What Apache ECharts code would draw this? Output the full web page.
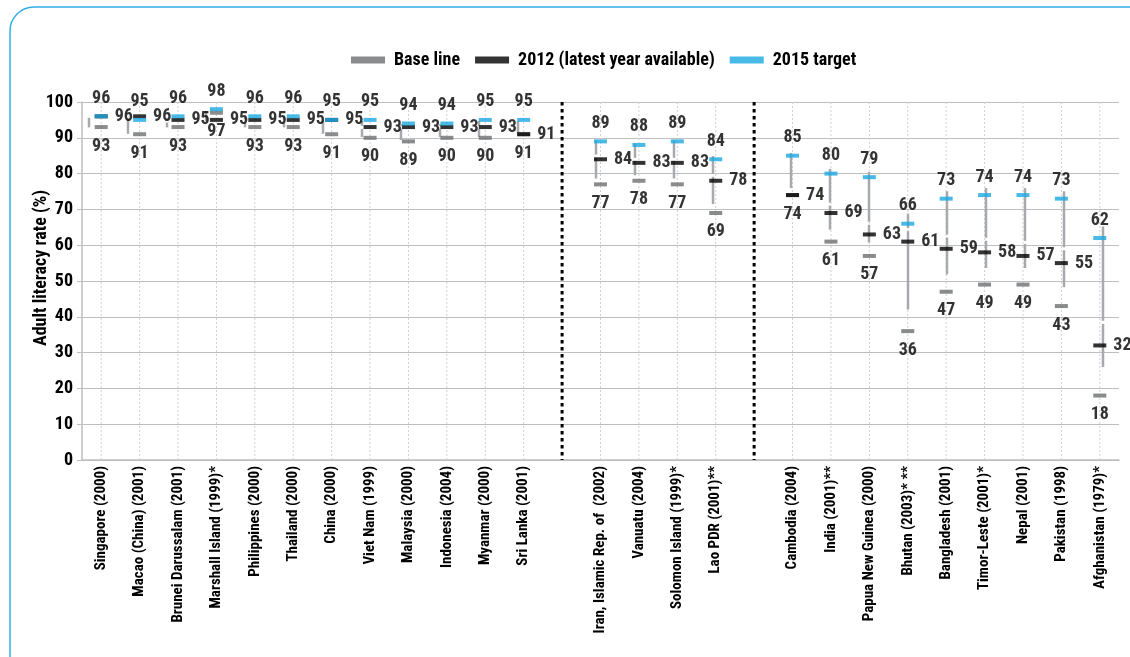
<!DOCTYPE html>
<html>
<head>
<meta charset="utf-8">
<script src="https://cdn.jsdelivr.net/npm/echarts@6/dist/echarts.min.js"></script>
<style>
html, body { margin: 0; padding: 0; background: #fff; }
#chart { width: 1130px; height: 657px; }
</style>
</head>
<body>
<div id="chart"></div>
<script>
// blank entries are the gaps between the three country groups
var categories = [
    'Singapore (2000)', 'Macao (China) (2001)', 'Brunei Darussalam (2001)', 'Marshall Island (1999)*',
    'Philippines (2000)', 'Thailand (2000)', 'China (2000)', 'Viet Nam (1999)', 'Malaysia (2000)',
    'Indonesia (2004)', 'Myanmar (2000)', 'Sri Lanka (2001)', '',
    'Iran, Islamic Rep. of  (2002)', 'Vanuatu (2004)', 'Solomon Island (1999)*', 'Lao PDR (2001)**', '',
    'Cambodia (2004)', 'India (2001)**', 'Papua New Guinea (2000)', 'Bhutan (2003)* **', 'Bangladesh (2001)',
    'Timor-Leste (2001)*', 'Nepal (2001)', 'Pakistan (1998)', 'Afghanistan (1979)*'
];
var baseLine   = [93, 91, 93, 97, 93, 93, 91, 90, 89, 90, 90, 91, null, 77, 78, 77, 69, null, 74, 61, 57, 36, 47, 49, 49, 43, 18];
var latest2012 = [96, 96, 95, 95, 95, 95, 95, 93, 93, 93, 93, 91, null, 84, 83, 83, 78, null, 74, 69, 63, 61, 59, 58, 57, 55, 32];
var target2015 = [96, 95, 96, 98, 96, 96, 95, 95, 94, 94, 95, 95, null, 89, 88, 89, 84, null, 85, 80, 79, 66, 73, 74, 74, 73, 62];

var FONT = "'Roboto Condensed', 'Open Sans Condensed', 'DejaVu Sans Condensed', sans-serif";
var INK = '#000000';

var chart = echarts.init(document.getElementById('chart'));

function val(arr) {
    return arr.map(function (v) { return v == null ? '-' : v; });
}

var rangeData = [];
var deco = [];
categories.forEach(function (c, i) {
    deco.push([i, c === '' ? 1 : 0]);
    if (c !== '') rangeData.push([i, target2015[i], latest2012[i], baseLine[i]]);
});

// vertical dotted gridlines and the black group separators
function renderDeco(params, api) {
    var i = api.value(0);
    var top = api.coord([i, 100]);
    var bot = api.coord([i, 0]);
    if (api.value(1) === 1) {
        return {
            type: 'line',
            shape: { x1: top[0], y1: top[1], x2: bot[0], y2: bot[1] },
            style: { stroke: '#000', lineWidth: 3, lineDash: [3.5, 3.5] }
        };
    }
    return {
        type: 'line',
        shape: { x1: top[0], y1: top[1], x2: bot[0], y2: bot[1] },
        style: { stroke: '#d0d0d0', lineWidth: 1, lineDash: [2, 2] }
    };
}

// grey range lines (drawn in the slightly shifted second grid, like the original)
function renderRange(params, api) {
    var i = api.value(0);
    var t = api.value(1), l = api.value(2), b = api.value(3);
    var hi = Math.max(t, l, b), lo = Math.min(t, l, b);
    var p1 = api.coord([i, hi]);
    var p2 = api.coord([i, lo]);
    var pm = api.coord([i, l]);
    var st = { stroke: '#a7a9ac', lineWidth: 2.5 };
    var kids = [];
    if (l > lo && l < hi) {
        kids.push({ type: 'line', shape: { x1: p1[0], y1: p1[1], x2: pm[0], y2: pm[1] - 1.5 }, style: st });
        kids.push({ type: 'line', shape: { x1: pm[0], y1: pm[1] + 1.5, x2: p2[0], y2: p2[1] }, style: st });
    } else {
        kids.push({ type: 'line', shape: { x1: p1[0], y1: p1[1], x2: p2[0], y2: p2[1] }, style: st });
    }
    return { type: 'group', children: kids };
}

var labelStyle = { color: INK, fontFamily: FONT, fontWeight: 'bold', fontSize: 18 };

var option = {
    animation: false,
    backgroundColor: '#fff',
    graphic: [
        {
            type: 'rect',
            shape: { x: 10, y: 7, width: 1200, height: 800, r: 24 },
            style: { fill: 'none', stroke: '#35aee6', lineWidth: 1.5 },
            z: -1
        },
        {
            type: 'text',
            x: 41, y: 268,
            rotation: Math.PI / 2,
            style: {
                text: 'Adult literacy rate (%)',
                align: 'center', verticalAlign: 'middle',
                fill: INK,
                font: 'bold 18px ' + FONT
            }
        }
    ],
    legend: {
        left: 346,
        top: 46,
        itemWidth: 34,
        itemHeight: 7,
        itemGap: 15,
        icon: 'rect',
        data: ['Base line', '2012 (latest year available)', '2015 target'],
        textStyle: { color: INK, fontFamily: FONT, fontWeight: 'bold', fontSize: 18, padding: [0, 0, 0, 4] }
    },
    grid: [
        { left: 82, right: 11, top: 102, bottom: 197 },
        { left: 69.5, width: 1053, top: 105, height: 319.6 }
    ],
    xAxis: [
        {
            type: 'category',
            data: categories,
            gridIndex: 0,
            axisLine: { lineStyle: { color: '#bcbec0', width: 1.5 } },
            axisTick: { show: false },
            axisLabel: {
                rotate: 90,
                interval: 0,
                margin: 6,
                color: INK,
                fontFamily: FONT,
                fontWeight: 'bold',
                fontSize: 15
            },
            splitLine: { show: false }
        },
        {
            type: 'category',
            data: categories,
            gridIndex: 1,
            show: false
        }
    ],
    yAxis: [
        {
            type: 'value',
            gridIndex: 0,
            min: 0,
            max: 100,
            interval: 10,
            axisLine: { show: true, lineStyle: { color: '#bcbec0', width: 1.5 } },
            axisTick: { show: true, length: 5, lineStyle: { color: '#bcbec0' } },
            axisLabel: { color: INK, fontFamily: FONT, fontWeight: 'bold', fontSize: 18, margin: 9 },
            splitLine: { lineStyle: { color: '#bcbec0', width: 1.2 } }
        },
        {
            type: 'value',
            gridIndex: 1,
            min: 0,
            max: 100,
            show: false
        }
    ],
    series: [
        {
            type: 'custom',
            xAxisIndex: 0,
            yAxisIndex: 0,
            renderItem: renderDeco,
            data: deco,
            encode: { x: 0, y: 1 },
            silent: true,
            z: 1
        },
        {
            type: 'custom',
            xAxisIndex: 1,
            yAxisIndex: 1,
            renderItem: renderRange,
            data: rangeData,
            encode: { x: 0, y: [1, 2, 3] },
            silent: true,
            z: 2
        },
        {
            name: 'Base line',
            type: 'scatter',
            symbol: 'rect',
            symbolSize: [13, 4],
            itemStyle: { color: '#6d6e71' },
            data: val(baseLine),
            label: Object.assign({ show: true, position: 'bottom', distance: 8 }, labelStyle),
            z: 3
        },
        {
            name: '2012 (latest year available)',
            type: 'scatter',
            symbol: 'rect',
            symbolSize: [13, 4],
            itemStyle: { color: '#000000' },
            data: val(latest2012),
            label: Object.assign({ show: true, position: 'right', distance: 7 }, labelStyle),
            z: 4
        },
        {
            name: '2015 target',
            type: 'scatter',
            symbol: 'rect',
            symbolSize: [13, 4],
            itemStyle: { color: '#1ba9e1' },
            data: val(target2015),
            label: Object.assign({ show: true, position: 'top', distance: 7 }, labelStyle),
            z: 5
        }
    ]
};

chart.setOption(option);
</script>
</body>
</html>
